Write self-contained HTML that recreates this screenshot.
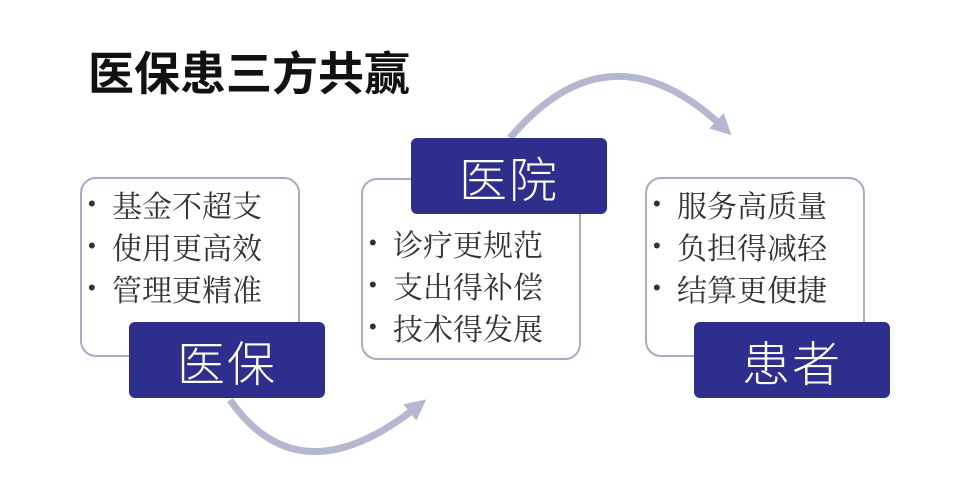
<!DOCTYPE html>
<html><head><meta charset="utf-8"><style>
body{margin:0;width:975px;height:477px;background:#fff;position:relative;overflow:hidden;font-family:"Liberation Sans","Noto Sans CJK SC",sans-serif}
.t{position:absolute;left:88px;top:44px;font-size:46px;font-weight:bold;color:#111;line-height:60px}
.box{position:absolute;border:2px solid #a9abc4;border-radius:16px;background:#fff;width:220px;height:180px;box-sizing:border-box}
.lab{position:absolute;width:196px;height:76px;background:#2e2f8c;border-radius:6px;color:#fff;font-size:48px;text-align:center;line-height:76px;font-family:"Noto Sans CJK SC",sans-serif;font-weight:300;letter-spacing:2px}
.ul{position:absolute;font-size:30px;color:#333;line-height:42px;font-family:"Noto Serif CJK SC",serif;white-space:nowrap}
.ul div:before{content:"•";display:inline-block;width:24px;font-size:22px;vertical-align:top;font-family:"Liberation Sans",sans-serif}
</style></head><body>
<div class="t">医保患三方共赢</div>
<svg width="975" height="477" style="position:absolute;left:0;top:0">
<defs><marker id="a" markerWidth="3" markerHeight="3" refX="1.5" refY="1.5" orient="auto"><path d="M0,0 L3,1.5 L0,3 Z" fill="#b5b6cf"/></marker></defs>
<path d="M230,400 Q300,500 418,406" stroke="#b5b6cf" stroke-width="7" fill="none" marker-end="url(#a)"/>
<path d="M510,138 Q610,20 724,128" stroke="#b5b6cf" stroke-width="7" fill="none" marker-end="url(#a)"/>
</svg>
<div class="box" style="left:80px;top:177px"></div>
<div class="ul" style="left:88px;top:183px"><div>基金不超支</div><div>使用更高效</div><div>管理更精准</div></div>
<div class="lab" style="left:129px;top:322px">医保</div>
<div class="box" style="left:361px;top:178px;height:182px"></div>
<div class="ul" style="left:369px;top:222px"><div>诊疗更规范</div><div>支出得补偿</div><div>技术得发展</div></div>
<div class="lab" style="left:411px;top:138px">医院</div>
<div class="box" style="left:645px;top:177px"></div>
<div class="ul" style="left:653px;top:183px"><div>服务高质量</div><div>负担得减轻</div><div>结算更便捷</div></div>
<div class="lab" style="left:694px;top:322px">患者</div>
</body></html>
